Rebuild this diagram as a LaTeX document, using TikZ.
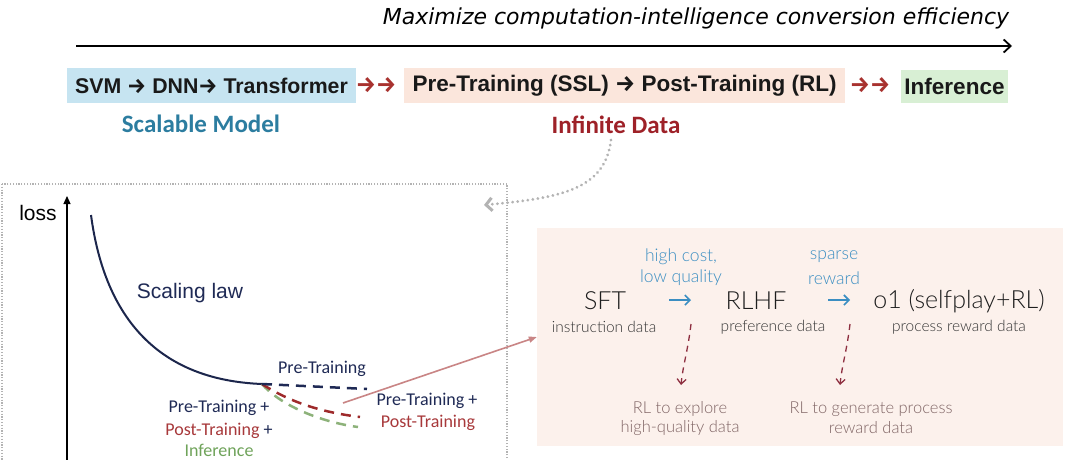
\documentclass[tikz,border=0pt]{standalone}
\usepackage{fontspec}
\setmainfont{Liberation Sans}
\newfontfamily\carl{Carlito}
\newfontfamily\thinf{Lato Light}
\newfontfamily\dejavu{DejaVu Sans}
\newfontfamily\fira{Fira Sans}
\newcommand\myarr{{\fira\bfseries →}}
\usetikzlibrary{arrows.meta}
\definecolor{boxblue}{HTML}{C6E4F1}
\definecolor{boxpeach}{HTML}{FBE6DC}
\definecolor{boxgreen}{HTML}{D8EFD4}
\definecolor{arrred}{HTML}{A8322F}
\definecolor{teal}{HTML}{2C7DA0}
\definecolor{infred}{HTML}{9E2128}
\definecolor{dotgrey}{HTML}{B3B3B3}
\definecolor{navy}{HTML}{1F2A55}
\definecolor{dred}{HTML}{9E2A2B}
\definecolor{lgreen}{HTML}{8DB27A}
\definecolor{postred}{HTML}{A8393B}
\definecolor{infgreen}{HTML}{6FA35A}
\definecolor{pinkarr}{HTML}{C98585}
\definecolor{panelbg}{HTML}{FCF1EC}
\definecolor{paneltxt}{HTML}{1E1E1E}
\definecolor{panelsub}{HTML}{333333}
\definecolor{pblue}{HTML}{3B8EC2}
\definecolor{pdash}{HTML}{8E2F40}
\definecolor{rltxt}{HTML}{806565}
\begin{document}
\begin{tikzpicture}[x=1pt,y=-1pt,
  txt/.style={inner sep=0pt,outer sep=0pt},
  topbox/.style={inner sep=0pt,outer sep=0pt,font=\bfseries\fontsize{22.5}{25}\selectfont,text=black!90},
  redarrs/.style={txt,font=\fontsize{22.5}{25}\selectfont,text=arrred},
  sublabel/.style={txt,font=\carl\bfseries\fontsize{25}{28}\selectfont},
  chartlbl/.style={txt,font=\carl\fontsize{18}{21}\selectfont},
  dashline/.style={line width=2.5pt,dash pattern=on 10pt off 7pt},
  pbig/.style={txt,font=\thinf\fontsize{25}{28}\selectfont,text=paneltxt},
  psmall/.style={txt,font=\thinf\fontsize{15.5}{18}\selectfont,text=panelsub},
  pbluet/.style={txt,font=\thinf\fontsize{17.5}{20}\selectfont,text=pblue},
  prl/.style={txt,font=\thinf\fontsize{16.5}{19}\selectfont,text=rltxt},
  barrow/.style={line width=1.6pt,draw=pblue,-{Straight Barb[length=5pt,width=10pt]}},
  pdarrow/.style={line width=1.3pt,draw=pdash,dash pattern=on 6pt off 5pt,-{Straight Barb[length=5pt,width=9pt]}}
]
\useasboundingbox (0,0) rectangle (1079,459);
\fill[white] (0,0) rectangle (1079,459);

% top goal
\node[txt,font=\dejavu\itshape\fontsize{22}{24}\selectfont] (goal) at (696,18) {Maximize computation-intelligence conversion efficiency};
\coordinate (axs) at (76,46);
\coordinate (axe) at (1012,46);
\draw[line width=1.8pt,-{Straight Barb[length=7pt,width=13pt]}] (axs) -- (axe);

% top row
\node[topbox,font=\bfseries\fontsize{21.3}{25}\selectfont,fill=boxblue,minimum width=289pt,minimum height=35pt] (model) at (211.5,85.5) {SVM \myarr{} DNN\myarr{} Transformer};
\node[redarrs] (ra1) at (376,85) {\myarr\myarr};
\node[topbox,fill=boxpeach,minimum width=441pt,minimum height=35pt] (train) at (624.5,85.5) {Pre-Training (SSL) \myarr{} Post-Training (RL)};
\node[redarrs] (ra2) at (870,85) {\myarr\myarr};
\node[topbox,fill=boxgreen,minimum width=107pt,minimum height=33pt] (infer) at (954.5,86.5) {Inference};

\node[sublabel,text=teal] (scal) at (201,124) {Scalable Model};
\node[sublabel,text=infred] (infd) at (616,125) {Infinite Data};

% chart frame
\draw[draw=dotgrey,line width=1.2pt,dash pattern=on 1.2pt off 1.6pt] (2,184) rectangle (507,490);
\coordinate (dstart) at (611,140);
\coordinate (dend) at (484,205);
\draw[draw=dotgrey,line width=3pt,dash pattern=on 0.1pt off 5pt,line cap=round,-{Straight Barb[length=6pt,width=13pt]}] (dstart) .. controls (605,190) and (560,198) .. (dend);

% axis
\coordinate (ybot) at (67,490);
\coordinate (ytop) at (67,196);
\draw[line width=1.2pt,-{Triangle[length=8pt,width=7pt]}] (ybot) -- (ytop);
\node[txt,font=\fontsize{21}{24}\selectfont] (loss) at (38,213) {loss};

% curves
\coordinate (c0) at (91,215);
\coordinate (knee) at (262,384);
\draw[line width=2pt,draw=navy!90!black] (c0) .. controls (105,320) and (160,380) .. (knee);
\node[txt,font=\fontsize{21}{24}\selectfont,text=navy] (slaw) at (190,293) {Scaling law};
\coordinate (pe) at (367,389);
\coordinate (re) at (360,417);
\coordinate (ge) at (358,427);
\draw[dashline,draw=lgreen] (knee) .. controls (280,405) and (320,422) .. (ge);
\draw[dashline,draw=dred] (knee) .. controls (290,402) and (320,412) .. (re);
\draw[dashline,draw=navy] (knee) -- (pe);

\node[chartlbl,text=navy] (lpre) at (322,369) {Pre-Training};
\node[chartlbl,text=navy] (lr1) at (427,401) {Pre-Training +};
\node[chartlbl,text=postred] (lr2) at (428,423) {Post-Training};
\node[chartlbl,text=navy] (ll1) at (219,408) {Pre-Training +};
\node[chartlbl,text=navy] (ll2) at (219,431) {\textcolor{postred}{Post-Training} +};
\node[chartlbl,text=infgreen] (ll3) at (219,450) {Inference};

% panel
\node[inner sep=0pt,fill=panelbg,minimum width=526pt,minimum height=218pt] (panel) at (800,337) {};
\coordinate (pk) at (343,403);
\draw[line width=1.6pt,draw=pinkarr,-{Triangle[length=8pt,width=6pt]}] (pk) -- (panel.west);

\node[pbig] (sft) at (605,301) {SFT};
\node[psmall] (sftd) at (604,327) {instruction data};
\node[pbig] (rlhf) at (756,301) {RLHF};
\node[psmall] (rlhfd) at (773,327) {preference data};
\node[pbig] (o1) at (959,301) {o1 (selfplay+RL)};
\node[psmall] (o1d) at (959,327) {process reward data};

\node[pbluet] (hc1) at (681,257) {high cost,};
\node[pbluet] (hc2) at (681,278) {low quality};
\node[pbluet] (sp1) at (834,257) {sparse};
\node[pbluet] (sp2) at (834,278) {reward};

\coordinate (b1s) at (669,300);
\coordinate (b1e) at (691,300);
\coordinate (b2s) at (828,300);
\coordinate (b2e) at (850,300);
\draw[barrow] (b1s) -- (b1e);
\draw[barrow] (b2s) -- (b2e);

\coordinate (d1s) at (691,324);
\coordinate (d1e) at (681,385);
\coordinate (d2s) at (850,324);
\coordinate (d2e) at (840,385);
\draw[pdarrow] (d1s) .. controls (688,350) and (683,365) .. (d1e);
\draw[pdarrow] (d2s) .. controls (847,350) and (842,365) .. (d2e);

\node[prl] (rl1a) at (680,409) {RL to explore};
\node[prl] (rl1b) at (680,428) {high-quality data};
\node[prl] (rl2a) at (871,409) {RL to generate process};
\node[prl] (rl2b) at (871,428) {reward data};
\end{tikzpicture}
\end{document}
